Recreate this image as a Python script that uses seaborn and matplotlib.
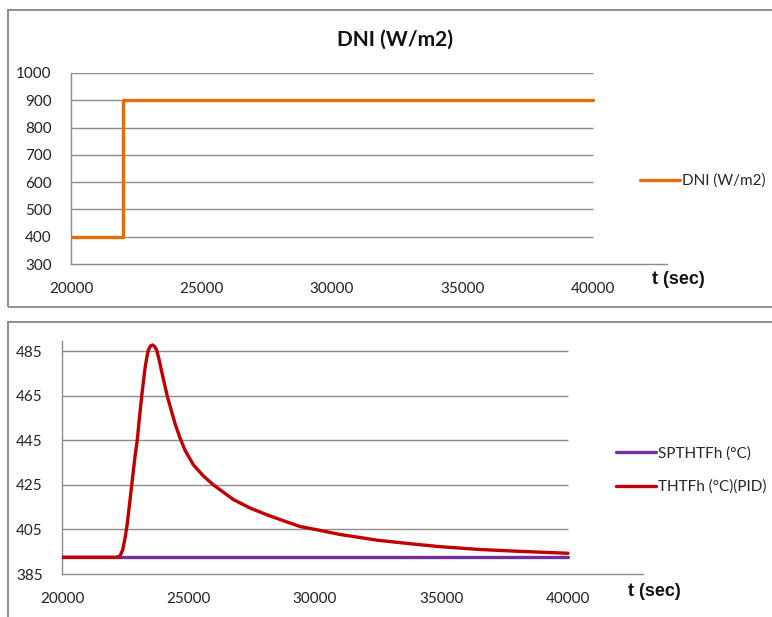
import matplotlib
matplotlib.use("Agg")
import matplotlib.pyplot as plt
import seaborn as sns
import pandas as pd
from matplotlib.patches import Rectangle

# ---------------- data ----------------
dni_t = [20000, 22000, 40000]
dni_v = [400, 900, 900]

sp_t = [20000, 40000]
sp_v = [392.5, 392.5]

thtf_t = [20000, 22100, 22200, 22292, 22399, 22502, 22581, 22688, 22779, 22885,
          22976, 23060, 23150, 23281, 23350, 23411, 23500, 23585, 23660, 23743,
          23840, 23941, 24162, 24466, 24664, 24862, 25190, 25585, 25980, 26400,
          26771, 27431, 28090, 28747, 29407, 30000, 31000, 32500, 34000, 35000,
          36500, 38000, 40000]
thtf_v = [392.5, 392.5, 392.7, 393.1, 395.8, 401.7, 407.7, 418.2, 427.2, 437.6,
          445.1, 455.0, 464.7, 477.3, 482.0, 485.4, 487.3, 487.7, 487.0, 485.4,
          481.0, 475.7, 464.7, 452.5, 446.0, 440.5, 434.0, 429.0, 425.0, 421.5,
          418.4, 414.6, 411.6, 408.9, 406.3, 405.0, 402.7, 400.1, 398.3, 397.2,
          396.0, 395.2, 394.3]

x_ticks = [20000, 25000, 30000, 35000, 40000]
top_yticks = [300, 400, 500, 600, 700, 800, 900, 1000]
bot_yticks = [385, 405, 425, 445, 465, 485]

top_title = "DNI (W/m2)"
x_label = "t (sec)"
dni_label = "DNI (W/m2)"
sp_label = "SPTHTFh (°C)"
thtf_label = "THTFh (°C)(PID)"

ORANGE = "#E46C0A"
RED = "#C00000"
PURPLE = "#7030A0"
GRID = "#8c8c8c"

# ---------------- style ----------------
sns.set_style("white")
plt.rcParams["font.family"] = ["Lato", "DejaVu Sans"]

W, H = 772, 617
fig = plt.figure(figsize=(W / 100, H / 100), dpi=100)


def fx(px):
    return px / W


def fy(py):
    return 1 - py / H


# panel borders
for top, bot in [(10, 307), (322, 640)]:
    fig.patches.append(Rectangle((fx(8), fy(bot)), fx(820) - fx(8), fy(top) - fy(bot),
                                 transform=fig.transFigure, fill=False,
                                 edgecolor="#8f8f8f", lw=1.4, zorder=0))


def style_axes(ax, yticks, xmax):
    ax.set_xlim(20000, xmax)
    ax.set_xticks(x_ticks)
    ax.set_yticks(yticks)
    for s in ["top", "right"]:
        ax.spines[s].set_visible(False)
    for s in ["left", "bottom"]:
        ax.spines[s].set_color(GRID)
        ax.spines[s].set_linewidth(1.0)
    ax.tick_params(axis="both", direction="out", length=6, width=1.0, color=GRID,
                   labelsize=11, labelcolor="#222222")
    ax.tick_params(axis="y", pad=8)
    ax.tick_params(axis="x", pad=7)
    ax.hlines(yticks[1:], 20000, 40000, color=GRID, lw=1.0, zorder=0)
    ax.set_xlabel("")
    ax.set_ylabel("")
    ax.patch.set_alpha(0)


# ---------------- top panel ----------------
ax1 = fig.add_axes([fx(71), fy(264), fx(667) - fx(71), fy(73) - fy(264)])
df_dni = pd.DataFrame({"t": dni_t, "v": dni_v})
sns.lineplot(data=df_dni, x="t", y="v", ax=ax1, color=ORANGE, lw=2.4,
             drawstyle="steps-post", label=dni_label, zorder=3)
ax1.set_ylim(300, 1000)
style_axes(ax1, top_yticks, 20000 + (667 - 71) / (593 - 71) * 20000)
ax1.legend(loc="center left", bbox_to_anchor=(fx(640), fy(181)),
           bbox_transform=fig.transFigure, frameon=False, fontsize=11,
           handlelength=2.6, handletextpad=0.15, borderpad=0, borderaxespad=0)

fig.text(fx(395), fy(40), top_title, ha="center", va="center",
         fontsize=15, fontweight="bold", color="#111111")
fig.text(fx(678), fy(280), x_label, ha="center", va="center",
         fontsize=13, fontweight="bold", color="#111111",
         family=["Liberation Sans", "DejaVu Sans"])

# ---------------- bottom panel ----------------
ax2 = fig.add_axes([fx(62), fy(574), fx(643.5) - fx(62), fy(340.7) - fy(574)])
df_sp = pd.DataFrame({"t": sp_t, "v": sp_v})
df_th = pd.DataFrame({"t": thtf_t, "v": thtf_v})
sns.lineplot(data=df_sp, x="t", y="v", ax=ax2, color=PURPLE, lw=2.4,
             label=sp_label, zorder=3)
sns.lineplot(data=df_th, x="t", y="v", ax=ax2, color=RED, lw=2.4,
             label=thtf_label, zorder=4)
ax2.set_ylim(385, 485 + (351 - 340.7) / (574 - 351) * 100)
style_axes(ax2, bot_yticks, 20000 + (643.5 - 62) / (568 - 62) * 20000)
ax2.legend(loc="center left", bbox_to_anchor=(fx(616), fy(470)),
           bbox_transform=fig.transFigure, frameon=False, fontsize=11,
           handlelength=2.6, handletextpad=0.15, borderpad=0, borderaxespad=0,
           labelspacing=1.25)

fig.text(fx(654), fy(592), x_label, ha="center", va="center",
         fontsize=13, fontweight="bold", color="#111111",
         family=["Liberation Sans", "DejaVu Sans"])

fig.savefig("out.png", dpi=100)
